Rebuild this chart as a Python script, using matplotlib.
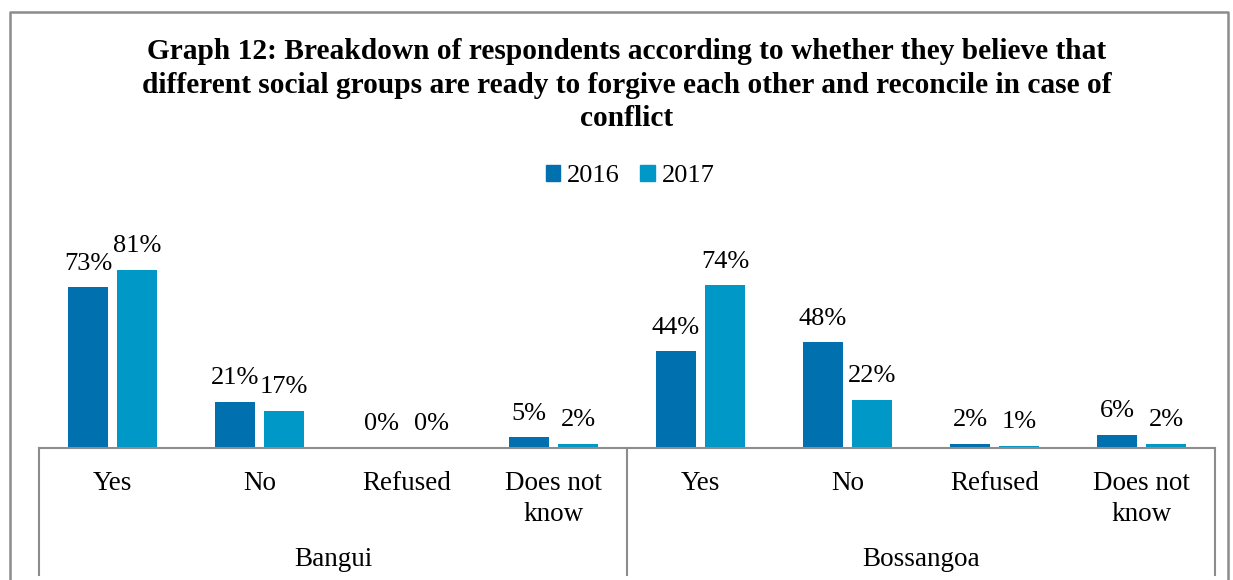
import numpy as np
import matplotlib
matplotlib.use("Agg")
import matplotlib.pyplot as plt
from matplotlib.lines import Line2D
from matplotlib.patches import Patch
import matplotlib.transforms as mtransforms

plt.rcParams["font.family"] = ["Liberation Serif", "DejaVu Serif"]

TITLE = ("Graph 12: Breakdown of respondents according to whether they believe that\n"
         "different social groups are ready to forgive each other and reconcile in case of\n"
         "conflict")
categories = ["Yes", "No", "Refused", "Does not\nknow"]
groups = ["Bangui", "Bossangoa"]
series = ["2016", "2017"]
vals_2016 = [73, 21, 0, 5, 44, 48, 2, 6]
vals_2017 = [81, 17, 0, 2, 74, 22, 1, 2]

C16 = "#0070AF"
C17 = "#0098C6"
GRID = "#8c8c8c"

W, H = 1233, 580
fig = plt.figure(figsize=(W / 100, H / 100), dpi=100)
ax = fig.add_axes([39 / W, 132 / H, 1176 / W, 220 / H])

x = np.arange(len(vals_2016))
bw = 0.272
b1 = ax.bar(x - 0.167, vals_2016, bw, color=C16, label=series[0])
b2 = ax.bar(x + 0.167, vals_2017, bw, color=C17, label=series[1])
for b in (b1, b2):
    ax.bar_label(b, labels=[f"{v:.0f}%" for v in b.datavalues], padding=9, fontsize=19)

ax.set_xlim(-0.5, len(x) - 0.5)
ax.set_ylim(0, 100)
ax.set_yticks([])
ax.set_xticks(x)
ax.set_xticklabels(categories * 2, fontsize=19.5, linespacing=1.3, va="top")
ax.tick_params(axis="x", length=0, pad=16.5)
for s in ["top", "left", "right"]:
    ax.spines[s].set_visible(False)
ax.spines["bottom"].set_color(GRID)
ax.spines["bottom"].set_linewidth(1.5)

# group labels below categories
trans = mtransforms.blended_transform_factory(ax.transData, fig.transFigure)
for i, g in enumerate(groups):
    ax.text(i * 4 + 1.5, 1 - 559 / H, g, transform=trans, ha="center", va="center",
            fontsize=19.5, clip_on=False)

# vertical separators of the grouped axis
for px in [39, 627, 1215]:
    fig.add_artist(Line2D([px / W, px / W], [1 - 448 / H, 1 - 575 / H],
                          color=GRID, lw=1.5, transform=fig.transFigure))

# outer chart border
bx0, bx1, by = 10 / W, 1228 / W, 1 - 12 / H
fig.add_artist(Line2D([bx0, bx0, bx1, bx1], [0, by, by, 0], color=GRID, lw=1.8,
                      transform=fig.transFigure))

fig.text(627 / W, 1 - 38 / H, TITLE, ha="center", va="top", fontsize=21.2,
         fontweight="bold", linespacing=1.32)

handles = [Patch(color=C16, label=series[0]), Patch(color=C17, label=series[1])]
fig.legend(handles=handles, loc="center", bbox_to_anchor=(630 / W, 1 - 176 / H), ncol=2,
           frameon=False, fontsize=19, handlelength=0.55, handleheight=0.55,
           handletextpad=0.25, columnspacing=0.8)

fig.savefig("out.png", dpi=100)
